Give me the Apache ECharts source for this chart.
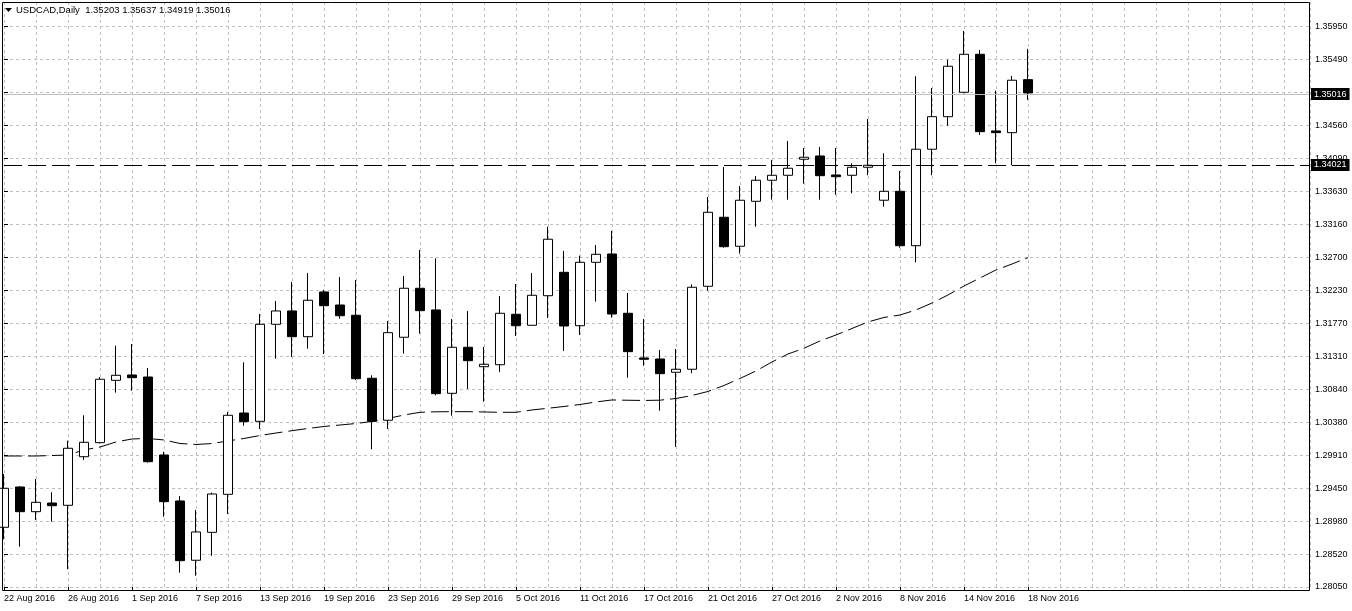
<!DOCTYPE html>
<html><head><meta charset="utf-8">
<script src="https://cdn.jsdelivr.net/npm/echarts@6/dist/echarts.min.js"></script>
<style>html,body{margin:0;padding:0;background:#fff}#c{width:1352px;height:611px}</style>
</head><body><div id="c"></div>
<script>
// ---------------- data ----------------
const symbolName = 'USDCAD,Daily';
const dates = ['22 Aug 2016','23 Aug 2016','24 Aug 2016','25 Aug 2016','26 Aug 2016','29 Aug 2016','30 Aug 2016','31 Aug 2016',
'1 Sep 2016','2 Sep 2016','5 Sep 2016','6 Sep 2016','7 Sep 2016','8 Sep 2016','9 Sep 2016','12 Sep 2016','13 Sep 2016','14 Sep 2016',
'15 Sep 2016','16 Sep 2016','19 Sep 2016','20 Sep 2016','21 Sep 2016','22 Sep 2016','23 Sep 2016','26 Sep 2016','27 Sep 2016',
'28 Sep 2016','29 Sep 2016','30 Sep 2016','3 Oct 2016','4 Oct 2016','5 Oct 2016','6 Oct 2016','7 Oct 2016','10 Oct 2016',
'11 Oct 2016','12 Oct 2016','13 Oct 2016','14 Oct 2016','17 Oct 2016','18 Oct 2016','19 Oct 2016','20 Oct 2016','21 Oct 2016',
'24 Oct 2016','25 Oct 2016','26 Oct 2016','27 Oct 2016','28 Oct 2016','31 Oct 2016','1 Nov 2016','2 Nov 2016','3 Nov 2016',
'4 Nov 2016','7 Nov 2016','8 Nov 2016','9 Nov 2016','10 Nov 2016','11 Nov 2016','14 Nov 2016','15 Nov 2016','16 Nov 2016',
'17 Nov 2016','18 Nov 2016'];
const opens = [1.28892,1.29460,1.29112,1.29234,1.29202,1.29887,1.30085,1.30964,1.31039,1.31011,1.29911,1.29263,1.28427,1.28821,
1.29357,1.30503,1.30386,1.31754,1.31942,1.31579,1.32210,1.32026,1.31881,1.30993,1.30401,1.31571,1.32262,1.31956,1.30781,1.31430,
1.31156,1.31184,1.31895,1.31740,1.32157,1.32487,1.31734,1.32628,1.32745,1.31909,1.31279,1.31265,1.31077,1.31120,1.32290,1.33263,
1.32854,1.33488,1.33785,1.33855,1.34081,1.34127,1.33859,1.33855,1.33968,1.33503,1.33629,1.32862,1.34222,1.34681,1.35025,1.35561,
1.34480,1.34456,1.35203];
const highs = [1.29643,1.29474,1.29573,1.29385,1.30113,1.30471,1.31011,1.31452,1.31476,1.31138,1.29954,1.29333,1.29136,1.29380,
1.30518,1.31218,1.31899,1.32083,1.32351,1.32477,1.32238,1.32421,1.32379,1.31035,1.31801,1.32435,1.32802,1.32685,1.31829,1.31942,
1.31434,1.32153,1.32322,1.32477,1.33130,1.32788,1.32721,1.32872,1.33070,1.32195,1.31829,1.31392,1.31406,1.32318,1.33549,1.33972,
1.33704,1.33845,1.34071,1.34339,1.34240,1.34254,1.34240,1.34024,1.34649,1.34165,1.33916,1.35251,1.35086,1.35485,1.35890,1.35622,
1.35048,1.35255,1.35637];
const lows = [1.28723,1.28618,1.28995,1.28971,1.28300,1.29841,1.30073,1.30790,1.30818,1.29803,1.29041,1.28252,1.28209,1.28491,
1.29079,1.30324,1.30278,1.31269,1.31293,1.31410,1.31335,1.31833,1.30969,1.29992,1.30278,1.31340,1.31622,1.30753,1.30465,1.30842,
1.30663,1.31082,1.31589,1.31735,1.31843,1.31378,1.31603,1.32073,1.31847,1.31001,1.31170,1.30536,1.30024,1.31063,1.32228,1.32834,
1.32750,1.33130,1.33511,1.33511,1.33737,1.33511,1.33581,1.33601,1.33855,1.33412,1.32834,1.32628,1.33855,1.34554,1.35011,1.34423,
1.34024,1.33996,1.34919];
const closes = [1.29442,1.29112,1.29244,1.29196,1.30006,1.30090,1.30979,1.31035,1.31001,1.29817,1.29253,1.28421,1.28826,1.29361,
1.30471,1.30381,1.31754,1.31942,1.31579,1.32093,1.32016,1.31875,1.30987,1.30386,1.31636,1.32262,1.31946,1.30776,1.31430,1.31241,
1.31190,1.31909,1.31734,1.32163,1.32953,1.31730,1.32628,1.32741,1.31899,1.31368,1.31261,1.31058,1.31120,1.32276,1.33333,1.32848,
1.33503,1.33785,1.33855,1.33954,1.34109,1.33849,1.33835,1.33968,1.33996,1.33629,1.32862,1.34222,1.34681,1.35392,1.35561,1.34470,
1.34456,1.35195,1.35016];
const movingAverage = [1.29897,1.29897,1.29897,1.29904,1.29911,1.29982,1.30024,1.30095,1.30137,1.30144,1.30123,1.30073,1.30059,
1.30073,1.30109,1.30144,1.30186,1.30221,1.30254,1.30285,1.30313,1.30334,1.30355,1.30384,1.30426,1.30475,1.30513,1.30520,1.30522,
1.30522,1.30518,1.30513,1.30513,1.30546,1.30570,1.30595,1.30623,1.30659,1.30687,1.30683,1.30680,1.30684,1.30708,1.30750,1.30807,
1.30891,1.30990,1.31096,1.31223,1.31335,1.31416,1.31519,1.31603,1.31695,1.31787,1.31850,1.31885,1.31956,1.32054,1.32167,1.32294,
1.32407,1.32520,1.32604,1.32693];
const priceTickLabels = ['1.28050','1.28520','1.28980','1.29450','1.29910','1.30380','1.30840','1.31310','1.31770','1.32230',
'1.32700','1.33160','1.33630','1.34090','1.34560','1.35020','1.35490','1.35950'];
const bidPrice = 1.35016;
const levelPrice = 1.34021;

// ---------------- layout ----------------
const W = 1352, H = 611;
const gridLeft = 4, gridRight = 1310, gridTop = 2, baseY = 587, frameBottom = 590.5;
const pxPerBar = 16, pxPerStep = 32.96;
const priceMin = parseFloat(priceTickLabels[0]);
const priceStep = (parseFloat(priceTickLabels[priceTickLabels.length - 1]) - priceMin) / (priceTickLabels.length - 1);
const idxMax = (baseY - gridTop) / pxPerStep;
const priceMax = priceMin + idxMax * priceStep;
const xMax = (gridRight - gridLeft) / pxPerBar;
const FONT = 'Liberation Sans';
const labelIdx = dates.map((d, i) => i).filter(i => i % 4 === 0);
const yIdx = priceTickLabels.map((d, i) => i);
const fmt = v => v.toFixed(5);
const last = dates.length - 1;
const title = symbolName + '  ' + [opens[last], highs[last], lows[last], closes[last]].map(fmt).join(' ');

const chart = echarts.init(document.getElementById('c'), null, {renderer: 'canvas'});
const grid = {color: '#c0c0c0', type: [3, 3], width: 1};
chart.setOption({
  animation: false,
  backgroundColor: '#ffffff',
  grid: {left: gridLeft, top: gridTop, right: W - gridRight, bottom: H - baseY, show: false},
  xAxis: [{
    type: 'value', min: 0, max: xMax, interval: 4, offset: frameBottom - baseY, position: 'bottom',
    axisLine: {show: false},
    axisTick: {show: true, customValues: labelIdx, length: 4, lineStyle: {color: '#000', width: 1}},
    axisLabel: {customValues: labelIdx, formatter: v => dates[Math.round(v)] || '', align: 'left', margin: 4,
      fontFamily: FONT, fontSize: 9, color: '#000'},
    splitLine: {show: false}
  }, {
    type: 'value', min: 0, max: xMax, interval: 2, position: 'top',
    axisLine: {show: false}, axisTick: {show: false}, axisLabel: {show: false},
    splitLine: {show: true, lineStyle: grid}
  }],
  yAxis: [{
    type: 'value', min: priceMin, max: priceMax, show: false
  }, {
    type: 'value', min: 0, max: idxMax, interval: 1, position: 'right',
    axisLine: {show: false},
    axisTick: {show: true, customValues: yIdx, length: 4, lineStyle: {color: '#000', width: 1}},
    axisLabel: {customValues: yIdx, formatter: v => priceTickLabels[Math.round(v)] || '', margin: 5,
      fontFamily: FONT, fontSize: 9, color: '#000'},
    splitLine: {show: true, lineStyle: grid}
  }],
  series: [{
    type: 'line', name: 'MA', xAxisIndex: 0, yAxisIndex: 0, z: 2, clip: false,
    data: movingAverage.map((v, i) => [i, v]), symbol: 'none',
    lineStyle: {color: '#000', width: 1, type: [18, 6]},
    markLine: {
      silent: true, symbol: 'none', animation: false,
      data: [{yAxis: bidPrice}],
      lineStyle: {color: '#c0c0c0', width: 1, type: 'solid'},
      label: {show: true, position: 'end', distance: 1, formatter: fmt(bidPrice), color: '#fff',
        backgroundColor: '#000', padding: [2, 3, 1, 3], fontFamily: FONT, fontSize: 9}
    }
  }, {
    type: 'candlestick', xAxisIndex: 0, yAxisIndex: 0, z: 3, clip: true, barWidth: 10,
    encode: {x: 0, y: [1, 2, 3, 4]},
    data: dates.map((d, i) => [i, opens[i], closes[i], lows[i], highs[i]]),
    itemStyle: {color: '#ffffff', color0: '#000000', borderColor: '#000', borderColor0: '#000', borderColorDoji: '#000', borderWidth: 1}
  }, {
    type: 'line', xAxisIndex: 0, yAxisIndex: 0, z: 4, clip: false, data: [],
    markLine: {
      silent: true, symbol: 'none', animation: false,
      data: [{yAxis: levelPrice}],
      lineStyle: {color: '#000', width: 1, type: [18, 6]},
      label: {show: true, position: 'end', distance: 1, formatter: fmt(levelPrice), color: '#fff',
        backgroundColor: '#000', padding: [2, 3, 1, 3], fontFamily: FONT, fontSize: 9}
    }
  }],
  graphic: [
    {type: 'rect', z: 100, silent: true, shape: {x: 2.5, y: 2.5, width: gridRight - 3, height: frameBottom - 2.5},
      style: {fill: 'none', stroke: '#000', lineWidth: 1}},
    {type: 'polygon', z: 100, silent: true, shape: {points: [[5, 8], [12, 8], [8.5, 12]]}, style: {fill: '#000'}},
    {type: 'text', z: 100, silent: true, x: 16, y: 5,
      style: {text: title, fill: '#000', font: '9.5px "' + FONT + '"', textVerticalAlign: 'top'}}
  ]
});
</script></body></html>
